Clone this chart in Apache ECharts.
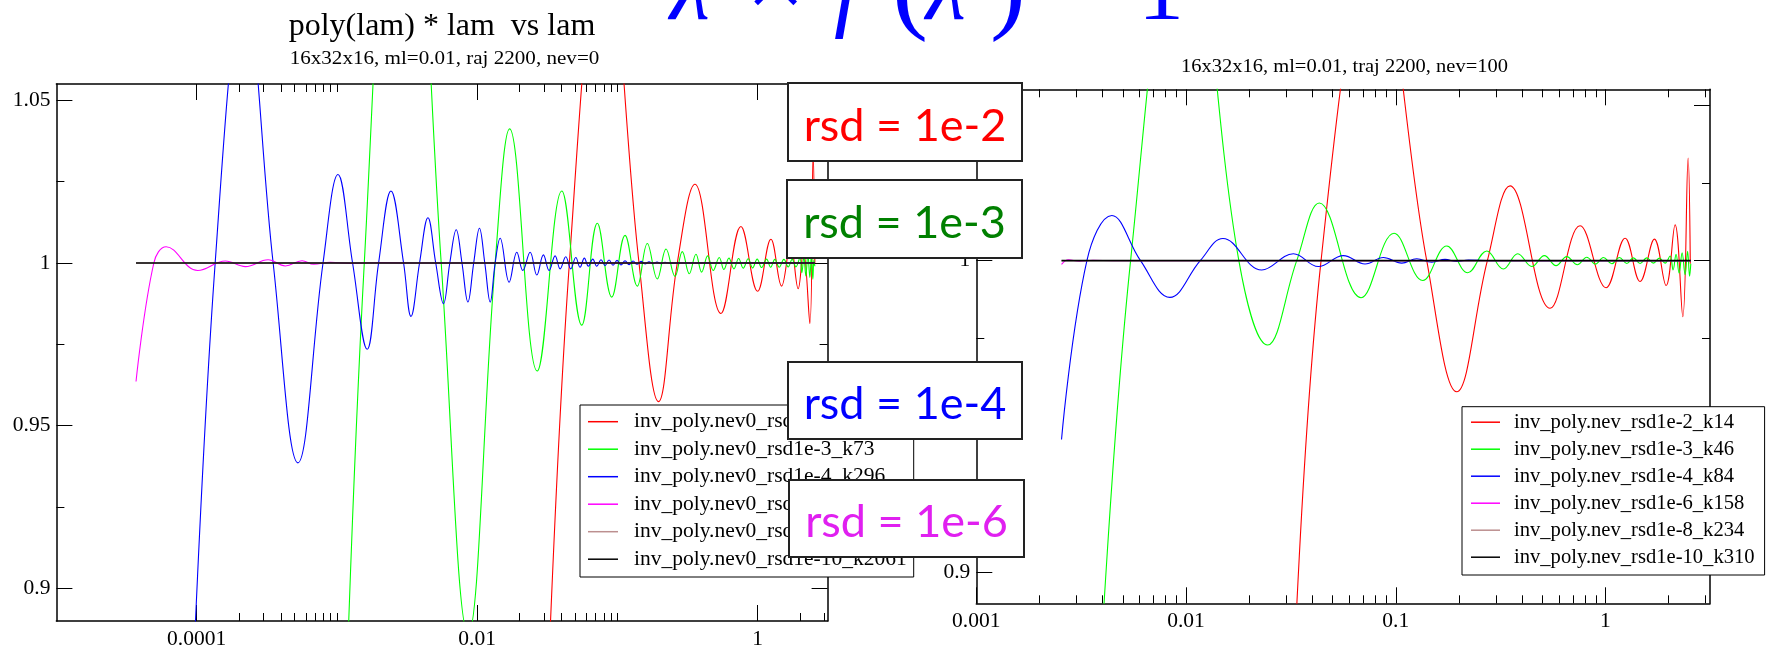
<!DOCTYPE html>
<html>
<head>
<meta charset="utf-8">
<script src="https://cdn.jsdelivr.net/npm/echarts@6/dist/echarts.min.js"></script>
<style>html,body{margin:0;padding:0;background:#fff}#c{width:1767px;height:650px}</style>
</head>
<body>
<div id="c"></div>
<script>
// ---------- tick values / labels ----------
const yMajor = [0.9, 0.95, 1, 1.05];
const yMinor = [0.925, 0.975, 1.025];
const leftXMajor = [1e-4, 1e-2, 1];
const leftXLabels = ['0.0001', '0.01', '1'];
const leftXMinor = [2e-4,3e-4,4e-4,5e-4,6e-4,7e-4,8e-4,9e-4,1e-3,0.02,0.03,0.04,0.05,0.06,0.07,0.08,0.09,0.1,2,3];
const rightXMajor = [0.001, 0.01, 0.1, 1];
const rightXLabels = ['0.001', '0.01', '0.1', '1'];
const rightXMinor = [0.002,0.003,0.004,0.005,0.006,0.007,0.008,0.009,0.02,0.03,0.04,0.05,0.06,0.07,0.08,0.09,0.2,0.3,0.4,0.5,0.6,0.7,0.8,0.9,2,3];

// ---------- series names ----------
const leftNames = ['inv_poly.nev0_rsd1e-2_k22','inv_poly.nev0_rsd1e-3_k73','inv_poly.nev0_rsd1e-4_k296','inv_poly.nev0_rsd1e-6_k880','inv_poly.nev0_rsd1e-8_k1469','inv_poly.nev0_rsd1e-10_k2061'];
const rightNames = ['inv_poly.nev_rsd1e-2_k14','inv_poly.nev_rsd1e-3_k46','inv_poly.nev_rsd1e-4_k84','inv_poly.nev_rsd1e-6_k158','inv_poly.nev_rsd1e-8_k234','inv_poly.nev_rsd1e-10_k310'];

// ---------- left panel (nev=0) data: [lam, value] ----------
const leftRed = [[3.050e-2,0.847],[4.543e-2,1.0],[8.027e-2,1.105],[0.1425,1.0],[0.1962,0.9574],[0.2671,1.0],[0.3570,1.0242],[0.5469,0.9845],[0.7589,1.0112],[0.9984,0.9913],[1.242,1.0073],[1.480,0.9929],[1.715,1.0058],[1.943,0.9921],[2.116,1.0040],[2.354,0.9814],[2.485,1.034],[2.555,1.0]];
const leftGreen = [[1.111e-3,0.84],[1.567e-3,1.0],[2.952e-3,1.178],[5.54e-3,1.0],[8.629e-3,0.886],[1.343e-2,1.0],[1.704e-2,1.0412],[2.680e-2,0.9668],[4.012e-2,1.0221],[5.567e-2,0.9809],[7.191e-2,1.0122],[9.108e-2,0.9895],[0.1133,1.0085],[0.1386,0.9929],[0.1633,1.0060],[0.1924,0.9951],[0.2220,1.0043],[0.2572,0.9959],[0.2900,1.0035],[0.3252,0.9967],[0.3629,1.0027],[0.3985,0.9972],[0.4397,1.0022],[0.4819,0.9977],[0.5319,1.0017],[0.5745,0.9980],[0.6236,1.0015],[0.6768,0.9982],[0.7311,1.0014],[0.7883,0.9984],[0.8556,1.0013],[0.9198,0.9985],[0.9917,1.0012],[1.066,0.9986],[1.157,1.0012],[1.236,0.9987],[1.326,1.0011],[1.423,0.9987],[1.537,1.0011],[1.649,0.9988],[1.761,1.0011],[1.871,0.9988],[1.998,1.0015],[2.064,0.9970],[2.133,1.0020],[2.204,0.9960],[2.278,1.0030],[2.354,0.9955],[2.413,1.0025],[2.473,0.9950],[2.514,1.0010],[2.555,0.9990]];
const leftBlue = [[9.0e-5,0.852],[1.355e-4,1.0],[2.18e-4,1.084],[3.51e-4,1.0],[5.27e-4,0.9386],[7.96e-4,1.0],[1.018e-3,1.0272],[1.293e-3,1.0],[1.643e-3,0.9735],[1.982e-3,1.0],[2.428e-3,1.0221],[2.987e-3,1.0],[3.372e-3,0.9836],[3.882e-3,1.0],[4.456e-3,1.0139],[5.063e-3,1.0],[5.754e-3,0.9875],[6.378e-3,1.0],[7.087e-3,1.0102],[7.792e-3,1.0],[8.587e-3,0.988],[9.443e-3,1.0],[1.038e-2,1.0107],[1.133e-2,1.0],[1.238e-2,0.988],[1.343e-2,1.0],[1.458e-2,1.0076],[1.690e-2,0.9941],[1.918e-2,1.0033],[2.116e-2,0.9977],[2.385e-2,1.0033],[2.662e-2,0.9963],[2.966e-2,1.0025],[3.257e-2,0.9977],[3.594e-2,1.0022],[3.902e-2,0.9982],[4.283e-2,1.0019],[4.648e-2,0.9982],[5.047e-2,1.0017],[5.415e-2,0.9987],[5.808e-2,1.0015],[6.204e-2,0.9990],[6.668e-2,1.0012],[7.122e-2,0.9990],[7.640e-2,1.0010],[8.160e-2,0.9992],[8.714e-2,1.0009],[9.305e-2,0.9993],[9.937e-2,1.0008],[0.1061,0.9994],[0.1133,1.0007],[0.1210,0.9995],[0.1292,1.0006],[0.1379,0.9996],[0.1473,1.0005],[0.1573,0.9997],[0.1680,1.0004],[0.1794,0.9998],[0.1915,1.0003],[0.2044,0.9998],[0.2183,1.0002],[0.2369,0.9999],[0.2792,1.0],[2.555,1.0]];
const leftMagenta = [[3.696e-5,0.9636],[4.950e-5,1.0],[6.064e-5,1.0050],[1.018e-4,0.9977],[1.603e-4,1.0006],[2.226e-4,0.9989],[3.231e-4,1.0010],[4.289e-4,0.9991],[5.641e-4,1.0007],[6.823e-4,0.9996],[8.974e-4,1.0002],[1.246e-3,0.9999],[2.037e-3,1.0001],[3.926e-3,1.0],[2.555,1.0]];
const leftBrown = [[3.696e-5,1.0],[2.555,1.0]];
const leftBlack = [[3.696e-5,1.0],[2.555,1.0]];

// ---------- right panel (nev=100) data ----------
const rightRed = [[3.203e-2,0.854],[4.404e-2,1.0],[7.870e-2,1.10],[0.1405,1.0],[0.1953,0.9579],[0.2734,1.0],[0.3508,1.024],[0.5442,0.9847],[0.7566,1.0112],[1.007,0.9913],[1.240,1.0072],[1.462,0.9933],[1.711,1.0069],[1.945,0.9920],[2.147,1.0115],[2.337,0.9820],[2.477,1.0329],[2.537,0.999]];
const rightGreen = [[3.804e-3,0.856],[5.441e-3,1.0],[9.858e-3,1.123],[1.786e-2,1.0],[2.450e-2,0.9729],[3.372e-2,1.0],[4.322e-2,1.0185],[6.832e-2,0.9881],[9.815e-2,1.0088],[0.1345,0.9936],[0.1751,1.0047],[0.2205,0.9961],[0.2716,1.0031],[0.3259,0.9973],[0.3818,1.0022],[0.4454,0.9981],[0.5113,1.0016],[0.5812,0.9984],[0.6537,1.0013],[0.7345,0.9987],[0.8144,1.0011],[0.8950,0.9989],[0.9772,1.0010],[1.072,0.9990],[1.165,1.0010],[1.264,0.9991],[1.358,1.0009],[1.462,0.9991],[1.573,1.0009],[1.692,0.9992],[1.807,1.0008],[1.924,0.9992],[2.032,1.0015],[2.100,0.9970],[2.170,1.0020],[2.244,0.9960],[2.319,1.0025],[2.397,0.9955],[2.463,1.0030],[2.518,0.9950],[2.551,0.9990]];
const rightBlue = [[2.549e-3,0.9426],[3.368e-3,1.0],[4.428e-3,1.0145],[6.067e-3,1.0],[8.370e-3,0.9882],[1.169e-2,1.0],[1.500e-2,1.0071],[2.296e-2,0.9970],[3.249e-2,1.0022],[4.274e-2,0.9981],[5.624e-2,1.0016],[7.139e-2,0.9989],[8.726e-2,1.0010],[0.1068,0.9992],[0.1259,1.0006],[0.1485,0.9995],[0.1718,1.0004],[0.1953,0.9997],[0.2220,1.0002],[0.2816,1.0],[2.551,1.0]];
const rightMagenta = [[2.549e-3,0.9988],[2.75e-3,1.0003],[3.1e-3,0.9998],[3.6e-3,1.0001],[4.5e-3,1.0],[2.551,1.0]];
const rightBrown = [[2.549e-3,1.0],[2.551,1.0]];
const rightBlack = [[2.549e-3,1.0],[2.551,1.0]];

const seriesColors = ['#ff0000', '#00ff00', '#0000ff', '#ff00ff', '#bc8f8f', '#000000'];

// ---------- chart ----------
const SERIF = '"Liberation Serif", "Times New Roman", serif';
const chart = echarts.init(document.getElementById('c'), null, {renderer: 'canvas'});

function near(a, b) { return Math.abs(Math.log(a) - Math.log(b)) < 1e-6; }

function xAxes(grid, min, max, majors, labels, minors) {
  const base = {type: 'log', logBase: 10, gridIndex: grid, min: min, max: max, splitLine: {show: false}};
  const lineStyle = {color: '#000', width: 1.5};
  return [
    Object.assign({}, base, {position: 'bottom',
      axisLine: {show: true, onZero: false, lineStyle: lineStyle},
      axisTick: {show: true, inside: true, length: 16, customValues: majors, lineStyle: {color: '#000', width: 1}},
      axisLabel: {show: true, customValues: majors, margin: 7, color: '#000', fontFamily: SERIF, fontSize: 21.5,
        formatter: function (v) { for (let i = 0; i < majors.length; i++) if (near(v, majors[i])) return labels[i]; return ''; }}}),
    Object.assign({}, base, {position: 'bottom',
      axisLine: {show: false, onZero: false},
      axisTick: {show: true, inside: true, length: 8, customValues: minors, lineStyle: {color: '#000', width: 1}},
      axisLabel: {show: false}}),
    Object.assign({}, base, {position: 'top',
      axisLine: {show: true, onZero: false, lineStyle: lineStyle},
      axisTick: {show: true, inside: true, length: 16, customValues: majors, lineStyle: {color: '#000', width: 1}},
      axisLabel: {show: false}}),
    Object.assign({}, base, {position: 'top',
      axisLine: {show: false, onZero: false},
      axisTick: {show: true, inside: true, length: 8, customValues: minors, lineStyle: {color: '#000', width: 1}},
      axisLabel: {show: false}})
  ];
}
function yAxes(grid) {
  const base = {type: 'value', gridIndex: grid, min: 0.89, max: 1.055, splitLine: {show: false}};
  const lineStyle = {color: '#000', width: 1.5};
  return [
    Object.assign({}, base, {position: 'left',
      axisLine: {show: true, onZero: false, lineStyle: lineStyle},
      axisTick: {show: true, inside: true, length: 16, customValues: yMajor, lineStyle: {color: '#000', width: 1}},
      axisLabel: {show: true, customValues: yMajor, margin: 6, color: '#000', fontFamily: SERIF, fontSize: 21.5}}),
    Object.assign({}, base, {position: 'left',
      axisLine: {show: false, onZero: false},
      axisTick: {show: true, inside: true, length: 8, customValues: yMinor, lineStyle: {color: '#000', width: 1}},
      axisLabel: {show: false}}),
    Object.assign({}, base, {position: 'right',
      axisLine: {show: true, onZero: false, lineStyle: lineStyle},
      axisTick: {show: true, inside: true, length: 16, customValues: yMajor, lineStyle: {color: '#000', width: 1}},
      axisLabel: {show: false}}),
    Object.assign({}, base, {position: 'right',
      axisLine: {show: false, onZero: false},
      axisTick: {show: true, inside: true, length: 8, customValues: yMinor, lineStyle: {color: '#000', width: 1}},
      axisLabel: {show: false}})
  ];
}

function mkSeries(names, datas, xi, yi) {
  return names.map(function (n, i) {
    return {name: n, type: 'line', xAxisIndex: xi, yAxisIndex: yi, data: datas[i],
      smooth: 0.4, symbol: 'none', clip: true, silent: true,
      lineStyle: {color: seriesColors[i], width: i === 5 ? 1.6 : 1.1},
      itemStyle: {color: seriesColors[i]}};
  });
}

function legendCfg(names, left, top, fs, lh, gap, pad, textPad, iw) {
  return {data: names, orient: 'vertical', left: left, top: top, padding: pad, itemGap: gap,
    itemWidth: iw, itemHeight: 1.5, icon: 'rect', selectedMode: false,
    backgroundColor: '#fff', borderColor: '#000', borderWidth: 1,
    textStyle: {fontFamily: SERIF, fontSize: fs, lineHeight: lh, color: '#000', padding: [0, 0, 0, textPad]}};
}

function box(x, y, w, h, label, color) {
  return [
    {type: 'rect', z: 100, shape: {x: x, y: y, width: w, height: h},
      style: {fill: '#fff', stroke: '#222', lineWidth: 2}},
    {type: 'text', z: 101, style: {text: label, x: x + w / 2, y: y + h / 2 + 4,
      font: '45px Lato', fill: color, align: 'center', verticalAlign: 'middle',
      textAlign: 'center', textVerticalAlign: 'middle'}}
  ];
}
function txt(s, x, y, font, color, align, sx) {
  return {type: 'text', z: 101, x: x, y: y, scaleX: sx || 1,
    style: {text: s, x: 0, y: 0, font: font, fill: color, align: align, verticalAlign: 'middle',
      textAlign: align, textVerticalAlign: 'middle'}};
}

const option = {
  animation: false,
  backgroundColor: '#fff',
  grid: [
    {left: 56.4, top: 84, width: 771.2, height: 540, containLabel: false},
    {left: 976.3, top: 89.3, width: 733.7, height: 514, containLabel: false}
  ],
  xAxis: xAxes(0, 1e-5, 3.15, leftXMajor, leftXLabels, leftXMinor)
    .concat(xAxes(1, 1e-3, 3.15, rightXMajor, rightXLabels, rightXMinor)),
  yAxis: yAxes(0).concat(yAxes(1)),
  legend: [
    legendCfg(leftNames, 580, 405, 21.5, 22, 5.5, [5.7, 7, 6.8, 8], 11, 30),
    legendCfg(rightNames, 1462, 406.7, 20.6, 20, 6, [5, 10, 7.3, 9], 9, 29)
  ],
  series: mkSeries(leftNames, [leftRed, leftGreen, leftBlue, leftMagenta, leftBrown, leftBlack], 0, 0)
    .concat(mkSeries(rightNames, [rightRed, rightGreen, rightBlue, rightMagenta, rightBrown, rightBlack], 4, 4)),
  graphic: [].concat(
    [
      txt('poly(lam) * lam  vs lam', 442, 26.5, '32px "Liberation Serif"', '#000', 'center'),
      txt('16x32x16, ml=0.01, raj 2200, nev=0', 444.5, 59.5, '18.5px "Liberation Serif"', '#000', 'center', 1.14),
      txt('16x32x16, ml=0.01, traj 2200, nev=100', 1344.5, 67, '18.5px "Liberation Serif"', '#000', 'center', 1.107),
      txt('\u03bb', 670, -5, 'italic 92px "Liberation Serif"', '#0000ff', 'left'),
      txt('\u00d7', 746, -8.3, '105px "Liberation Serif"', '#0000ff', 'left'),
      txt('f', 834, -5.7, 'italic 95px "Liberation Serif"', '#0000ff', 'left'),
      txt('(', 892, -9, '108px "Liberation Serif"', '#0000ff', 'left'),
      txt('\u03bb', 926, -5, 'italic 92px "Liberation Serif"', '#0000ff', 'left'),
      txt(')', 990, -9, '108px "Liberation Serif"', '#0000ff', 'left'),
      txt('\u2212', 1050, -5, '92px "Liberation Serif"', '#0000ff', 'left'),
      txt('1', 1138, -5, '92px "Liberation Serif"', '#0000ff', 'left')
    ],
    box(788, 83, 234, 78, 'rsd = 1e-2', '#ff0000'),
    box(787, 180, 235, 78, 'rsd = 1e-3', '#008000'),
    box(788, 362, 234, 77, 'rsd = 1e-4', '#0000ff'),
    box(789, 480, 235, 77, 'rsd = 1e-6', '#e020f0')
  )
};
chart.setOption(option);
</script>
</body>
</html>
